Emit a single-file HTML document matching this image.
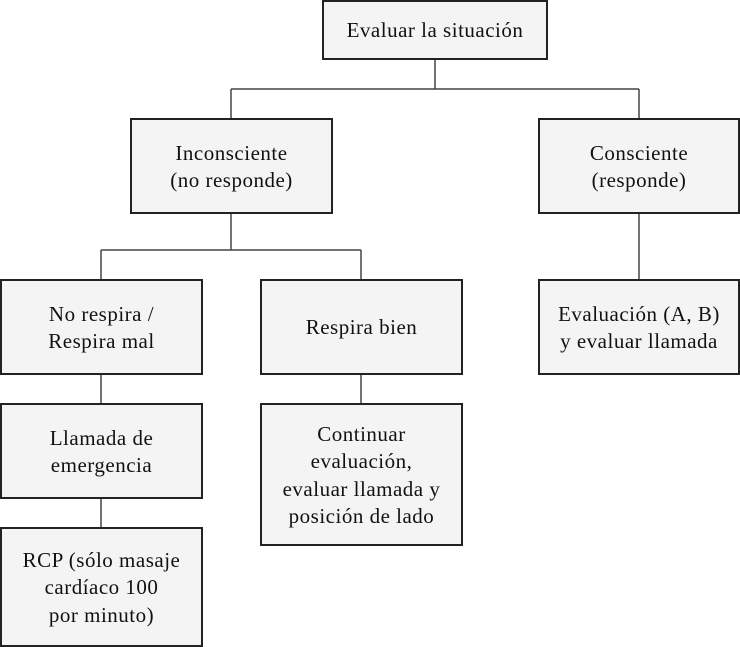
<!DOCTYPE html>
<html>
<head>
<meta charset="utf-8">
<style>
  html, body { margin:0; padding:0; background:#fff; }
  body { width:740px; height:647px; position:relative; overflow:hidden;
         font-family:"Liberation Serif", serif; color:#111; }
  svg { position:absolute; left:0; top:0; }
  .b { position:absolute; box-sizing:border-box; border:2px solid #222;
       background:#f4f4f4; display:flex; align-items:center; justify-content:center;
       text-align:center; font-size:21px; letter-spacing:0.5px; line-height:27.5px;
       padding-top:2px; }
</style>
</head>
<body>
<svg width="740" height="647">
  <g stroke="#444" stroke-width="1.5" fill="none">
    <line x1="435" y1="58" x2="435" y2="89"/>
    <line x1="231" y1="89" x2="639" y2="89"/>
    <line x1="231" y1="89" x2="231" y2="120"/>
    <line x1="639" y1="89" x2="639" y2="120"/>
    <line x1="231" y1="212" x2="231" y2="250"/>
    <line x1="101" y1="250" x2="361" y2="250"/>
    <line x1="101" y1="250" x2="101" y2="281"/>
    <line x1="361" y1="250" x2="361" y2="281"/>
    <line x1="639" y1="212" x2="639" y2="281"/>
    <line x1="101" y1="373" x2="101" y2="405"/>
    <line x1="101" y1="497" x2="101" y2="529"/>
    <line x1="361" y1="373" x2="361" y2="405"/>
  </g>
</svg>
<div class="b" style="left:322px;top:0px;width:226px;height:60px;">Evaluar la situación</div>
<div class="b" style="left:130px;top:118px;width:203px;height:96px;">Inconsciente<br>(no responde)</div>
<div class="b" style="left:538px;top:118px;width:202px;height:96px;">Consciente<br>(responde)</div>
<div class="b" style="left:0px;top:279px;width:203px;height:96px;">No respira /<br>Respira mal</div>
<div class="b" style="left:260px;top:279px;width:203px;height:96px;">Respira bien</div>
<div class="b" style="left:538px;top:279px;width:202px;height:96px;">Evaluación (A, B)<br>y evaluar llamada</div>
<div class="b" style="left:0px;top:403px;width:203px;height:96px;">Llamada de<br>emergencia</div>
<div class="b" style="left:260px;top:403px;width:203px;height:143px;">Continuar<br>evaluación,<br>evaluar llamada y<br>posición de lado</div>
<div class="b" style="left:0px;top:527px;width:203px;height:120px;">RCP (sólo masaje<br>cardíaco 100<br>por minuto)</div>
</body>
</html>
